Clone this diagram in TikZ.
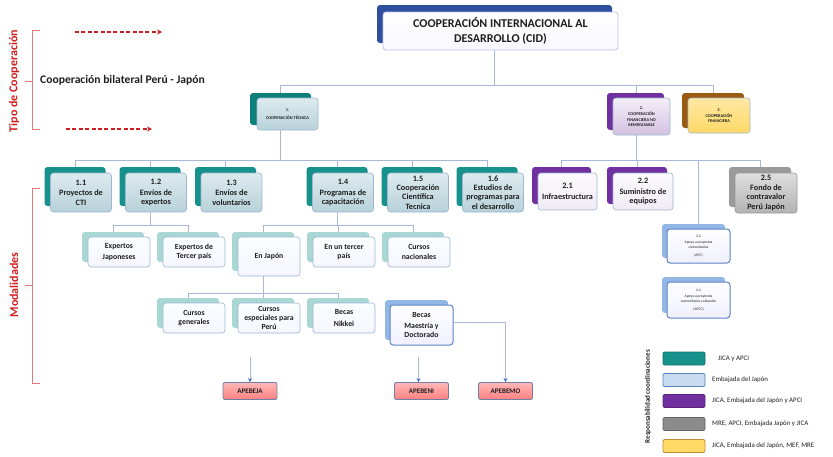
\documentclass[tikz,border=0pt]{standalone}
\usepackage{fontspec}
\setmainfont{Carlito}
\usetikzlibrary{shadows,backgrounds,arrows.meta}
\definecolor{lineC}{HTML}{A9B8D8}
\definecolor{txtC}{HTML}{1F1F1F}
\definecolor{frontB}{HTML}{9EB6D2}
\definecolor{cidBack}{HTML}{2E4E9E}
\definecolor{tealD}{HTML}{17918C}
\definecolor{tealDD}{HTML}{0E8079}
\definecolor{tealL}{HTML}{A9D8D4}
\definecolor{tealFt}{HTML}{DDEBEF}
\definecolor{tealFb}{HTML}{B7D1D8}
\definecolor{purpC}{HTML}{7030A0}
\definecolor{brownC}{HTML}{9A5A12}
\definecolor{yellC}{HTML}{FFD966}
\definecolor{grayD}{HTML}{9A9A9A}
\definecolor{blueL}{HTML}{93B7E4}
\definecolor{blueB}{HTML}{5D84C4}
\definecolor{legBlue}{HTML}{C6DBEF}
\definecolor{redC}{HTML}{D01E1E}
\definecolor{redL}{HTML}{E07878}
\definecolor{arrC}{HTML}{3F6FC4}
\definecolor{apeB}{HTML}{6E7FA8}
\begin{document}
\begin{tikzpicture}[x=1pt,y=-1pt,
  conn/.style={draw=lineC, line width=0.8pt},
  back/.style n args={3}{general shadow={shadow xshift=#1, shadow yshift=#2, fill=#3}},
  bx/.style={rounded corners=3pt, draw=frontB, line width=0.6pt, align=center, inner sep=1pt,
    text=txtC, font=\bfseries\fontsize{8.2}{9.4}\selectfont},
  cidbox/.style={bx, top color=white, bottom color=black!4!blue!3, draw=black!20!blue!25,
    line width=0.8pt, back={-6pt}{7pt}{cidBack}, font=\bfseries\fontsize{12}{14.5}\selectfont,
    minimum width=235pt, minimum height=38pt},
  lvone/.style={bx, font=\bfseries\fontsize{4.3}{5.4}\selectfont},
  tealbig/.style={lvone, top color=tealFt, bottom color=tealFb, back={-7pt}{5pt}{tealDD}},
  purpbig/.style={lvone, top color=purpC!8!white, bottom color=purpC!30!white, back={-6pt}{5pt}{purpC}},
  yellbig/.style={lvone, top color=yellC!60!white, bottom color=yellC, back={-6pt}{5pt}{brownC}},
  tealmid/.style={bx, top color=tealFt, bottom color=tealFb, back={-6pt}{6pt}{tealD},
    minimum width=61pt, minimum height=39pt},
  purpmid/.style={bx, top color=purpC!2!white, bottom color=purpC!10!white, back={-6pt}{6pt}{purpC},
    minimum width=59pt, minimum height=37pt},
  graymid/.style={bx, top color=black!13, bottom color=black!30, draw=black!40, back={-6pt}{6pt}{grayD},
    minimum width=62pt, minimum height=40pt},
  lightbox/.style={bx, top color=cyan!2!white, bottom color=cyan!6!blue!4!white, back={-6pt}{5pt}{tealL},
    minimum width=62pt, minimum height=30pt, font=\bfseries\fontsize{7.8}{9.2}\selectfont},
  bluebox/.style={bx, top color=white, bottom color=blue!6!white, draw=blueB, line width=1pt,
    back={-5pt}{5pt}{blueL}, font=\bfseries\fontsize{7.8}{9.2}\selectfont},
  tinybox/.style={bluebox, font=\fontsize{3.7}{4.7}\selectfont, minimum width=63pt},
  apebox/.style={rounded corners=2pt, draw=apeB, line width=0.9pt, top color=red!28!white,
    bottom color=red!50!white, minimum width=54pt, minimum height=17pt, inner sep=1pt,
    text=txtC, font=\bfseries\fontsize{7}{8}\selectfont},
  arr/.style={conn, -{Stealth[length=4pt, width=4pt, color=arrC]}},
  swatch/.style={rounded corners=2pt, line width=0.9pt, minimum width=42pt, minimum height=13pt, inner sep=0pt},
  legtxt/.style={anchor=west, inner sep=0pt, text=txtC, font=\fontsize{6.9}{8}\selectfont},
  redlab/.style={rotate=90, text=redC, font=\bfseries\fontsize{12}{14}\selectfont},
  brack/.style={draw=redL, line width=0.7pt},
  dasharr/.style={draw=redC, line width=1.3pt, dash pattern=on 4pt off 2.4pt, -{Stealth[length=5pt,width=5pt]}}
]
\useasboundingbox (0,0) rectangle (833,456);

% ---------- top ----------
\node[cidbox] (cid) at (500.5,31) {COOPERACIÓN INTERNACIONAL AL\\DESARROLLO (CID)};

\node[tealbig, minimum width=61pt, minimum height=32pt] (n1) at (287.5,114) {1.\\[2pt]COOPERACIÓN TÉCNICA};
\node[purpbig, minimum width=57pt, minimum height=37pt] (n2) at (641.5,116.5) {2.\\[1pt]COOPERACIÓN\\FINANCIERA NO\\REMBOLSABLE};
\node[yellbig, minimum width=62pt, minimum height=35pt] (n3) at (719,115.5) {3.\\[1pt]COOPERACIÓN\\FINANCIERA};

% ---------- level 2 ----------
\node[tealmid] (t11) at (81,192.5) {1.1\\[1pt]Proyectos de\\CTI};
\node[tealmid] (t12) at (156,192.5) {1.2\\[1pt]Envíos de\\expertos};
\node[tealmid] (t13) at (231.5,192.5) {1.3\\[1pt]Envíos de\\voluntarios};
\node[tealmid] (t14) at (343,192.5) {1.4\\[1pt]Programas de\\capacitación};
\node[tealmid] (t15) at (418,192.5) {1.5\\Cooperación\\Científica\\Tecnica};
\node[tealmid] (t16) at (493,192.5) {1.6\\Estudios de\\programas para\\el desarrollo};
\node[purpmid] (f21) at (567.5,191.5) {2.1\\[2pt]Infraestructura};
\node[purpmid, minimum width=60pt] (f22) at (643,191.5) {2.2\\[1pt]Suministro de\\equipos};
\node[graymid] (f25) at (766,193) {2.5\\Fondo de\\contravalor\\Perú Japón};

% ---------- level 3 ----------
\node[lightbox] (e1) at (119,252) {Expertos\\[2pt]Japoneses};
\node[lightbox] (e2) at (194,252) {Expertos de\\Tercer país};
\node[lightbox, minimum height=39pt] (j1) at (269,256.5) {En Japón};
\node[lightbox] (j2) at (344,252) {En un tercer\\país};
\node[lightbox] (j3) at (419,252) {Cursos\\nacionales};

% ---------- level 4 ----------
\node[lightbox] (c1) at (194,318) {Cursos\\generales};
\node[lightbox] (c2) at (269,318) {Cursos\\especiales para\\Perú};
\node[lightbox] (c3) at (344,318) {Becas\\[2pt]Nikkei};
\node[bluebox, minimum width=63pt, minimum height=40pt] (bm) at (421.5,325) {Becas\\[1pt]Maestría y\\Doctorado};

% ---------- 2.3 / 2.4 ----------
\node[tinybox, minimum height=34pt] (f23) at (698.5,246) {2.3\\[1pt]Apoyo a proyectos\\comunitarios\\[3pt](APC)};
\node[tinybox, minimum height=36pt] (f24) at (698.5,300) {2.4\\[1pt]Apoyo a proyectos\\comunitarios culturales\\[3pt](APCC)};

% ---------- APE ----------
\node[apebox] (a1) at (250,391) {APEBEJA};
\node[apebox] (a2) at (421.5,391) {APEBENI};
\node[apebox] (a3) at (505.5,391) {APEBEMO};

% ---------- helper coordinates ----------
\coordinate (cidb) at ([xshift=-6pt]cid.center);
\coordinate (n1b) at ([xshift=-7pt]n1.center);
\coordinate (n2b) at ([xshift=-5pt]n2.center);
\coordinate (n3b) at ([xshift=-6pt]n3.center);
\foreach \n in {t11,t12,t13,t14,t15,t16,f21,f22,f25,e1,e2,j1,j2,j3,c1,c2,c3}
  \coordinate (\n b) at ([xshift=-6pt]\n.center);
\coordinate (yA) at (0,85);
\coordinate (yB) at (0,160);
\coordinate (yC) at (0,225);
\coordinate (yD) at (0,293);
\coordinate (yE) at (0,357);
\coordinate (bmr) at ([yshift=3pt]bm.east);

% ---------- connectors ----------
\begin{scope}[on background layer]
  \fill[white] (0,0) rectangle (833,456);
  \draw[conn] (cidb) -- (cidb |- yA);
  \draw[conn] (n1b |- yA) -- (n3b |- yA);
  \foreach \n in {n1b,n2b,n3b} \draw[conn] (\n |- yA) -- (\n);
  % technical
  \draw[conn] (n1b) -- (n1b |- yB);
  \draw[conn] (t11b |- yB) -- (t16b |- yB);
  \foreach \n in {t11b,t12b,t13b,t14b,t15b,t16b} \draw[conn] (\n |- yB) -- (\n);
  % financial
  \draw[conn] (n2b) -- (n2b |- yB);
  \draw[conn] (f21b |- yB) -- (f25b |- yB);
  \foreach \n in {f21b,f22b,f25b} \draw[conn] (\n |- yB) -- (\n);
  \draw[conn] (f23.north |- yB) -- (f23.north);
  % level 3
  \draw[conn] (t12b) -- (t12b |- yC);
  \draw[conn] (e1b |- yC) -- (e2b |- yC);
  \foreach \n in {e1b,e2b} \draw[conn] (\n |- yC) -- (\n);
  \draw[conn] (t14b) -- (t14b |- yC);
  \draw[conn] (j1b |- yC) -- (j3b |- yC);
  \foreach \n in {j1b,j2b,j3b} \draw[conn] (\n |- yC) -- (\n);
  % level 4
  \draw[conn] (j1b) -- (j1b |- yD);
  \draw[conn] (c1b |- yD) -- (c3b |- yD);
  \foreach \n in {c1b,c2b,c3b} \draw[conn] (\n |- yD) -- (\n);
\end{scope}
\coordinate (a1s) at (a1.north |- yE);
\coordinate (a2s) at ([xshift=-3pt]a2.north |- yE);
\draw[arr] (a1s) -- (a1.north);
\draw[arr] (a2s) -- (a2s |- a2.north);
\draw[arr] (bmr) -| (a3.north);

% ---------- left annotations ----------
\node[redlab] (tipo) at (14,81) {Tipo de Cooperación};
\node[anchor=west, inner sep=0pt, text=txtC, font=\bfseries\fontsize{11.6}{13}\selectfont] (bil) at (40,80) {Cooperación bilateral Perú - Japón};
\coordinate (bt1) at (40,30);
\coordinate (bt2) at (40,129);
\coordinate (bm1) at (25,81);
\draw[brack] (bt1) -- (32,30) -- (32,129) -- (bt2);
\draw[brack] (bm1) -- (32,81);
\coordinate (d1s) at (75,32);
\coordinate (d1e) at (162,32);
\coordinate (d2s) at (66,129);
\coordinate (d2e) at (152,129);
\draw[dasharr] (d1s) -- (d1e);
\draw[dasharr] (d2s) -- (d2e);

\node[redlab] (moda) at (14,285) {Modalidades};
\coordinate (mt1) at (40,188);
\coordinate (mt2) at (40,383);
\coordinate (mm1) at (25,285);
\draw[brack] (mt1) -- (32,188) -- (32,383) -- (mt2);
\draw[brack] (mm1) -- (32,285);

% ---------- legend ----------
\node[rotate=90, anchor=east, inner sep=0pt, text=txtC, font=\bfseries\fontsize{7}{8}\selectfont] (legt) at (648,350) {Responsabilidad coordinaciones};
\node[swatch, fill=tealD, draw=tealD!80!black] (s1) at (684,358.5) {};
\node[swatch, fill=legBlue, draw=blueB] (s2) at (684,380) {};
\node[swatch, fill=purpC, draw=purpC!80!black] (s3) at (684,401) {};
\node[swatch, fill=black!45, draw=black!60] (s4) at (684,424) {};
\node[swatch, fill=yellC, draw=brownC!60!yellC] (s5) at (684,446) {};
\node[legtxt] (l1) at (718,358.5) {JICA y APCI};
\node[legtxt] (l2) at (712,380) {Embajada del Japón};
\node[legtxt] (l3) at (712,401) {JICA, Embajada del Japón y APCI};
\node[legtxt] (l4) at (712,424) {MRE, APCI, Embajada Japón y JICA};
\node[legtxt] (l5) at (712,446) {JICA, Embajada del Japón, MEF, MRE};
\end{tikzpicture}
\end{document}
